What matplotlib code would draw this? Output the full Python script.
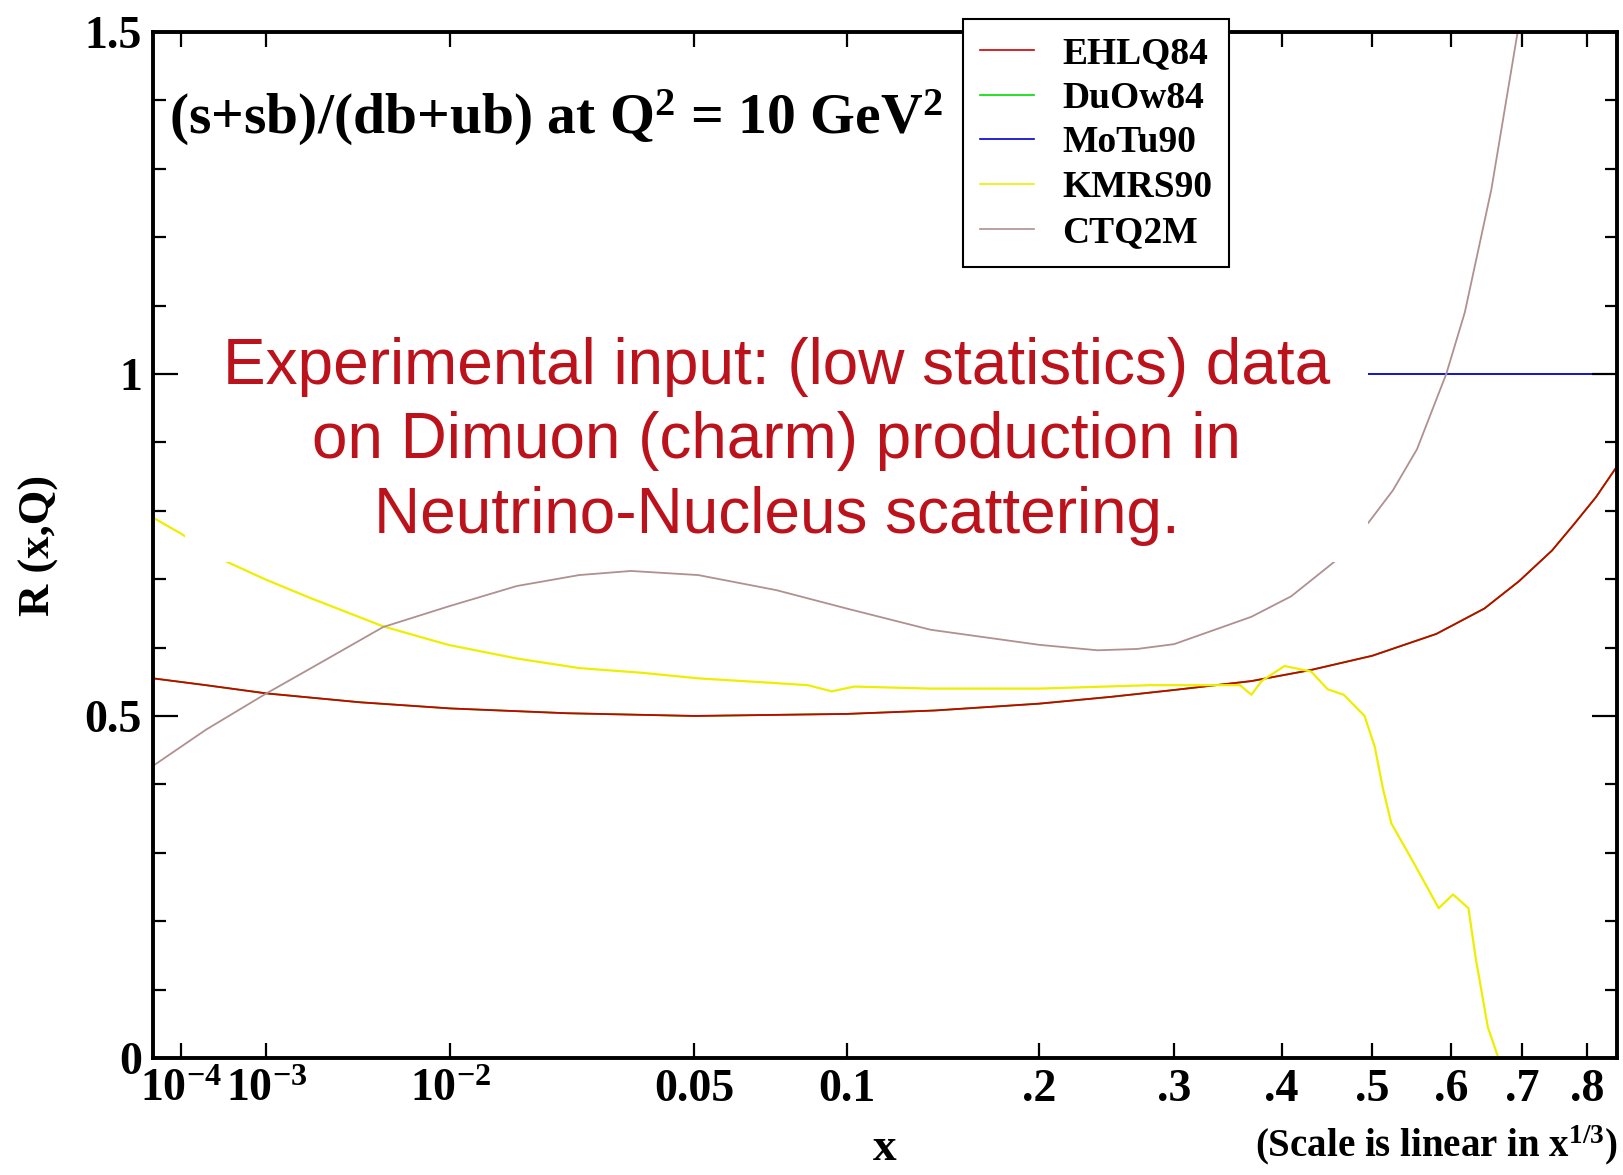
import numpy as np
import matplotlib
matplotlib.use("Agg")
import matplotlib.pyplot as plt
from matplotlib.patches import Rectangle
from matplotlib.ticker import FixedLocator, MultipleLocator, NullLocator

plt.rcParams['font.family'] = 'Liberation Serif'
plt.rcParams['font.weight'] = 'bold'
plt.rcParams['mathtext.fontset'] = 'custom'
plt.rcParams['mathtext.rm'] = 'Liberation Serif:bold'
plt.rcParams['mathtext.it'] = 'Liberation Serif:bold'
plt.rcParams['mathtext.bf'] = 'Liberation Serif:bold'

# R(x,Q) = (s+sb)/(db+ub) at Q^2 = 10 GeV^2
ehlq84_x = [2.4e-5, 2.4e-4, 1e-3, 4e-3, 0.01, 0.024, 0.05, 0.1, 0.14, 0.2, 0.25,
            0.3, 0.37, 0.43, 0.5, 0.58, 0.645, 0.695, 0.745, 0.78, 0.815, 0.85]
ehlq84_r = [0.555, 0.545, 0.533, 0.520, 0.511, 0.504, 0.500, 0.503, 0.508, 0.518, 0.528,
            0.538, 0.551, 0.567, 0.588, 0.620, 0.657, 0.697, 0.742, 0.781, 0.820, 0.865]

# DuOw84 is not visible: it lies under EHLQ84
duow84_x = ehlq84_x
duow84_r = ehlq84_r

motu90_x = [2.4e-5, 0.85]
motu90_r = [1.0, 1.0]

kmrs90_x = [2.4e-5, 9.8e-5, 3.7e-4, 1e-3, 2.1e-3, 5.2e-3, 0.0098, 0.017, 0.026, 0.038,
            0.051, 0.074, 0.085, 0.094, 0.103, 0.138, 0.2, 0.28, 0.359, 0.370, 0.380,
            0.403, 0.431, 0.449, 0.467, 0.491, 0.503, 0.513, 0.523, 0.550, 0.583,
            0.602, 0.623, 0.633, 0.650, 0.665]
kmrs90_r = [0.79, 0.767, 0.729, 0.699, 0.672, 0.631, 0.604, 0.584, 0.570, 0.563,
            0.555, 0.548, 0.545, 0.536, 0.543, 0.540, 0.540, 0.545, 0.545, 0.531, 0.551,
            0.573, 0.565, 0.539, 0.531, 0.50, 0.455, 0.393, 0.343, 0.287, 0.219,
            0.239, 0.219, 0.146, 0.045, 0.0]

ctq2m_x = [2.4e-5, 2.4e-4, 1e-3, 2.1e-3, 5.2e-3, 0.0098, 0.017, 0.026, 0.0355, 0.051,
           0.074, 0.1, 0.138, 0.2, 0.24, 0.27, 0.3, 0.37, 0.41, 0.457, 0.497, 0.525,
           0.555, 0.593, 0.618, 0.655, 0.693]
ctq2m_r = [0.427, 0.48, 0.533, 0.57, 0.63, 0.66, 0.69, 0.706, 0.712, 0.706,
           0.684, 0.657, 0.626, 0.604, 0.596, 0.598, 0.605, 0.645, 0.675, 0.726, 0.785, 0.83,
           0.89, 1.0, 1.09, 1.27, 1.5]

tick_x = [1e-4, 1e-3, 1e-2, 0.05, 0.1, 0.2, 0.3, 0.4, 0.5, 0.6, 0.7, 0.8]
tick_labels = [r'$10^{-4}$', r'$10^{-3}$', r'$10^{-2}$', '0.05', '0.1',
               '.2', '.3', '.4', '.5', '.6', '.7', '.8']

fig = plt.figure(figsize=(16.24, 11.75), dpi=100)
ax = fig.add_axes([0.0942, 0.0996, 0.9015, 0.8732])

lw = 1.3
ax.plot(duow84_x, duow84_r, color='#00dd00', lw=lw, label='DuOw84', zorder=1)
ax.plot(ehlq84_x, ehlq84_r, color='#cc0000', lw=lw, label='EHLQ84', zorder=2)
ax.plot(motu90_x, motu90_r, color='#0000cc', lw=lw, label='MoTu90', zorder=2)
ax.plot(kmrs90_x, kmrs90_r, color='#eeee00', lw=lw + 0.3, label='KMRS90', zorder=2)
ax.plot(ctq2m_x, ctq2m_r, color='#b09090', lw=lw, label='CTQ2M', zorder=2)

# x axis linear in x^(1/3)
ax.set_xscale('function', functions=(np.cbrt, lambda u: u ** 3))
ax.set_xlim(2.4e-5, 0.85)
ax.set_ylim(0, 1.5)
ax.xaxis.set_major_locator(FixedLocator(tick_x))
ax.xaxis.set_minor_locator(NullLocator())
ax.set_xticklabels(tick_labels)
ax.yaxis.set_major_locator(FixedLocator([0, 0.5, 1, 1.5]))
ax.yaxis.set_minor_locator(MultipleLocator(0.1))
ax.set_yticklabels(['0', '0.5', '1', '1.5'])

ax.tick_params(axis='both', which='both', direction='in', top=True, right=True, width=1.6)
ax.tick_params(axis='x', which='major', length=11, labelsize=33, pad=8)
ax.tick_params(axis='y', which='major', length=18, labelsize=33, pad=8)
ax.tick_params(axis='y', which='minor', length=9)
for s in ax.spines.values():
    s.set_linewidth(2.8)
    s.set_zorder(6)
ax.xaxis.set_zorder(6)
ax.yaxis.set_zorder(6)

ax.set_xlabel('x', fontsize=34, fontweight='bold', labelpad=12)
ax.set_ylabel('R (x,Q)', fontsize=32, fontweight='bold', labelpad=18)
ax.text(1.0, -0.085, r'(Scale is linear in x$^{1/3}$)', transform=ax.transAxes,
        ha='right', va='center', fontsize=28)

ax.text(0.011, 0.916, r'(s+sb)/(db+ub) at Q$^2$ = 10 GeV$^2$', transform=ax.transAxes,
        ha='left', va='center', fontsize=41.5)

# white patch behind the annotation
ax.add_patch(Rectangle((0.022, 0.483), 0.808, 0.235, transform=ax.transAxes,
                       facecolor='white', edgecolor='none', zorder=3))
ax.add_patch(Rectangle((0.0, 0.54), 0.03, 0.178, transform=ax.transAxes,
                       facecolor='white', edgecolor='none', zorder=3))
ax.text(0.426, 0.601, 'Experimental input: (low statistics) data\n'
        'on Dimuon (charm) production in\nNeutrino-Nucleus scattering.',
        transform=ax.transAxes, ha='center', va='center', fontsize=46,
        family='Liberation Sans', weight='normal', color='#bc121c',
        linespacing=1.31, zorder=4)

handles, labels = ax.get_legend_handles_labels()
order = ['EHLQ84', 'DuOw84', 'MoTu90', 'KMRS90', 'CTQ2M']
hmap = dict(zip(labels, handles))
leg = fig.legend([hmap[k] for k in order], order, loc='upper left',
                 bbox_to_anchor=(963 / 1624, 1 - 19 / 1175), fontsize=27,
                 frameon=True, fancybox=False, framealpha=1, edgecolor='black',
                 handlelength=1.45, handletextpad=0.75, labelspacing=0.26,
                 borderpad=0.45, borderaxespad=0)
leg.get_frame().set_linewidth(1.5)
for l in leg.get_lines():
    l.set_linewidth(1.2)

fig.savefig('out.png', dpi=100)
